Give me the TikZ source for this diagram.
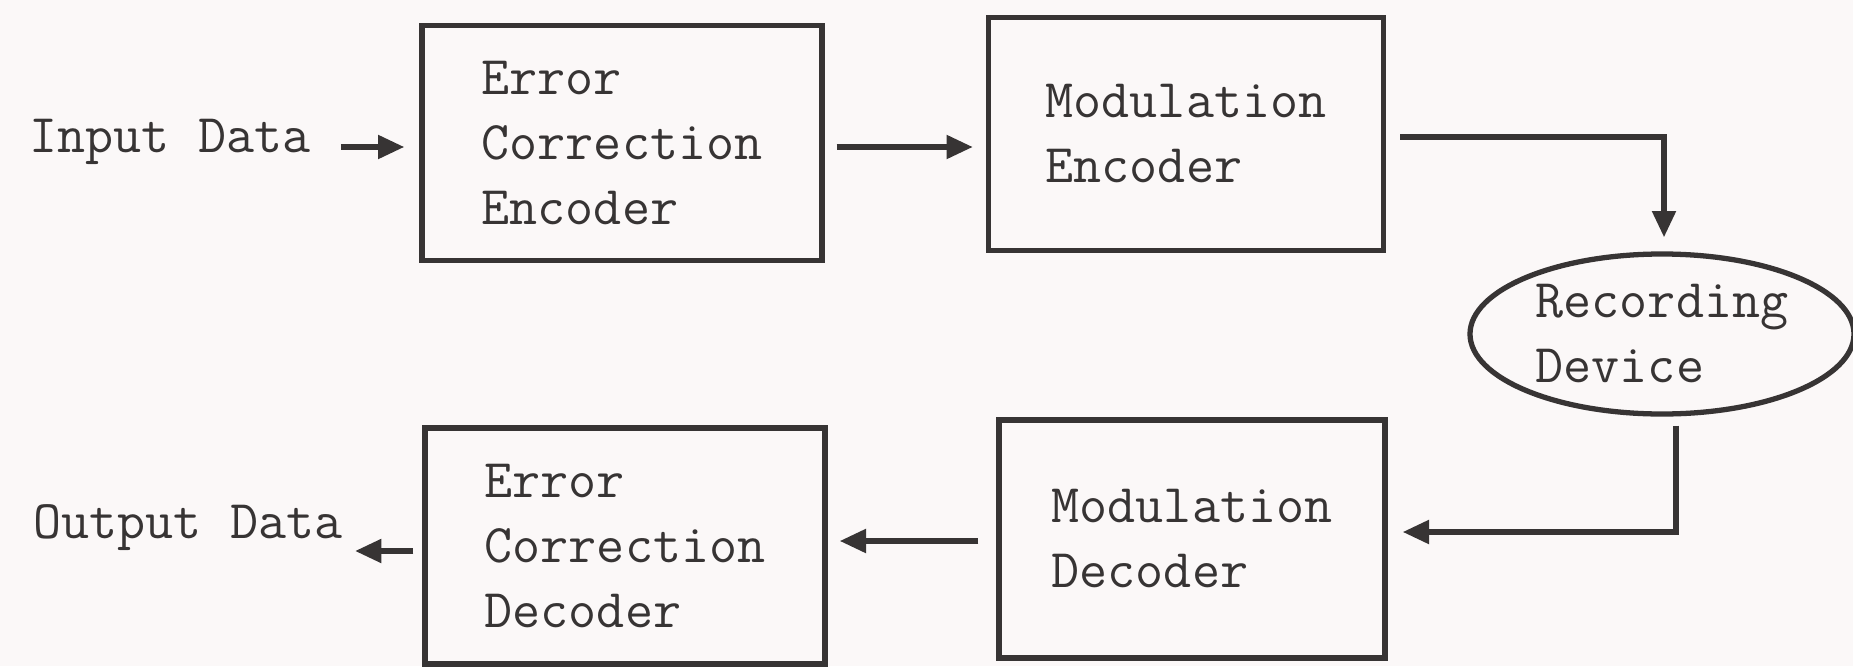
\documentclass[tikz,border=0pt]{standalone}
\usepackage{fontspec}
\usepackage{tikz}
\usetikzlibrary{arrows.meta,shapes.geometric}
\definecolor{inkgray}{RGB}{55,52,52}
\definecolor{paper}{RGB}{251,248,248}

\begin{document}
\begin{tikzpicture}[
    font=\ttfamily\fontsize{15.5}{18.5}\selectfont,
    block/.style={draw=inkgray,line width=1.5pt,text=inkgray,align=left,
      minimum width=4cm,minimum height=2.35cm},
    label/.style={text=inkgray,inner sep=0pt},
    arr/.style={inkgray,line width=1.6pt,-{Triangle[length=7.5pt,width=6.5pt]}}
  ]
    \fill[paper] (0,0) rectangle (18.53,6.66);
    \useasboundingbox (0,0) rectangle (18.53,6.66);

    % encoding chain
    \node[label] (in) at (1.70,5.24) {Input Data};
    \node[block] (ece) at (6.22,5.23) {Error\\Correction\\Encoder};
    \node[block,minimum width=3.95cm,minimum height=2.33cm] (me) at (11.86,5.32)
      {Modulation\\Encoder};

    % storage channel
    \node[ellipse,draw=inkgray,line width=1.5pt,text=inkgray,align=left,
      minimum width=3.84cm,minimum height=1.6cm,inner sep=0pt] (rec) at (16.62,3.32)
      {Recording\\Device};

    % decoding chain
    \node[block,minimum width=3.86cm,minimum height=2.38cm] (md) at (11.92,1.27)
      {Modulation\\Decoder};
    \node[block,minimum height=2.36cm] (ecd) at (6.25,1.20) {Error\\Correction\\Decoder};
    \node[label] (out) at (1.88,1.38) {Output Data};

    \draw[arr,shorten <=0.30cm,shorten >=0.15cm] ([yshift=-0.05cm]in.east)
      -- ([yshift=-0.05cm]in.east -| ece.west);
    \draw[arr,shorten <=0.12cm,shorten >=0.13cm] ([yshift=-0.04cm]ece.east)
      -- ([yshift=-0.04cm]ece.east -| me.west);
    \draw[arr,shorten <=0.14cm,shorten >=0.14cm] ([yshift=-0.03cm]me.east)
      -| ([xshift=0.02cm]rec.north);
    \draw[arr,shorten <=0.09cm,shorten >=0.15cm] ([xshift=0.14cm]rec.south)
      |- ([yshift=0.07cm]md.east);
    \draw[arr,shorten <=0.18cm,shorten >=0.12cm] ([yshift=-0.02cm]md.west)
      -- ([yshift=-0.02cm]md.west -| ecd.east);
    \draw[arr,shorten <=0.09cm,shorten >=0.12cm] ([yshift=-0.05cm]ecd.west)
      -- ([yshift=-0.05cm]ecd.west -| out.east);
  \end{tikzpicture}
\end{document}
